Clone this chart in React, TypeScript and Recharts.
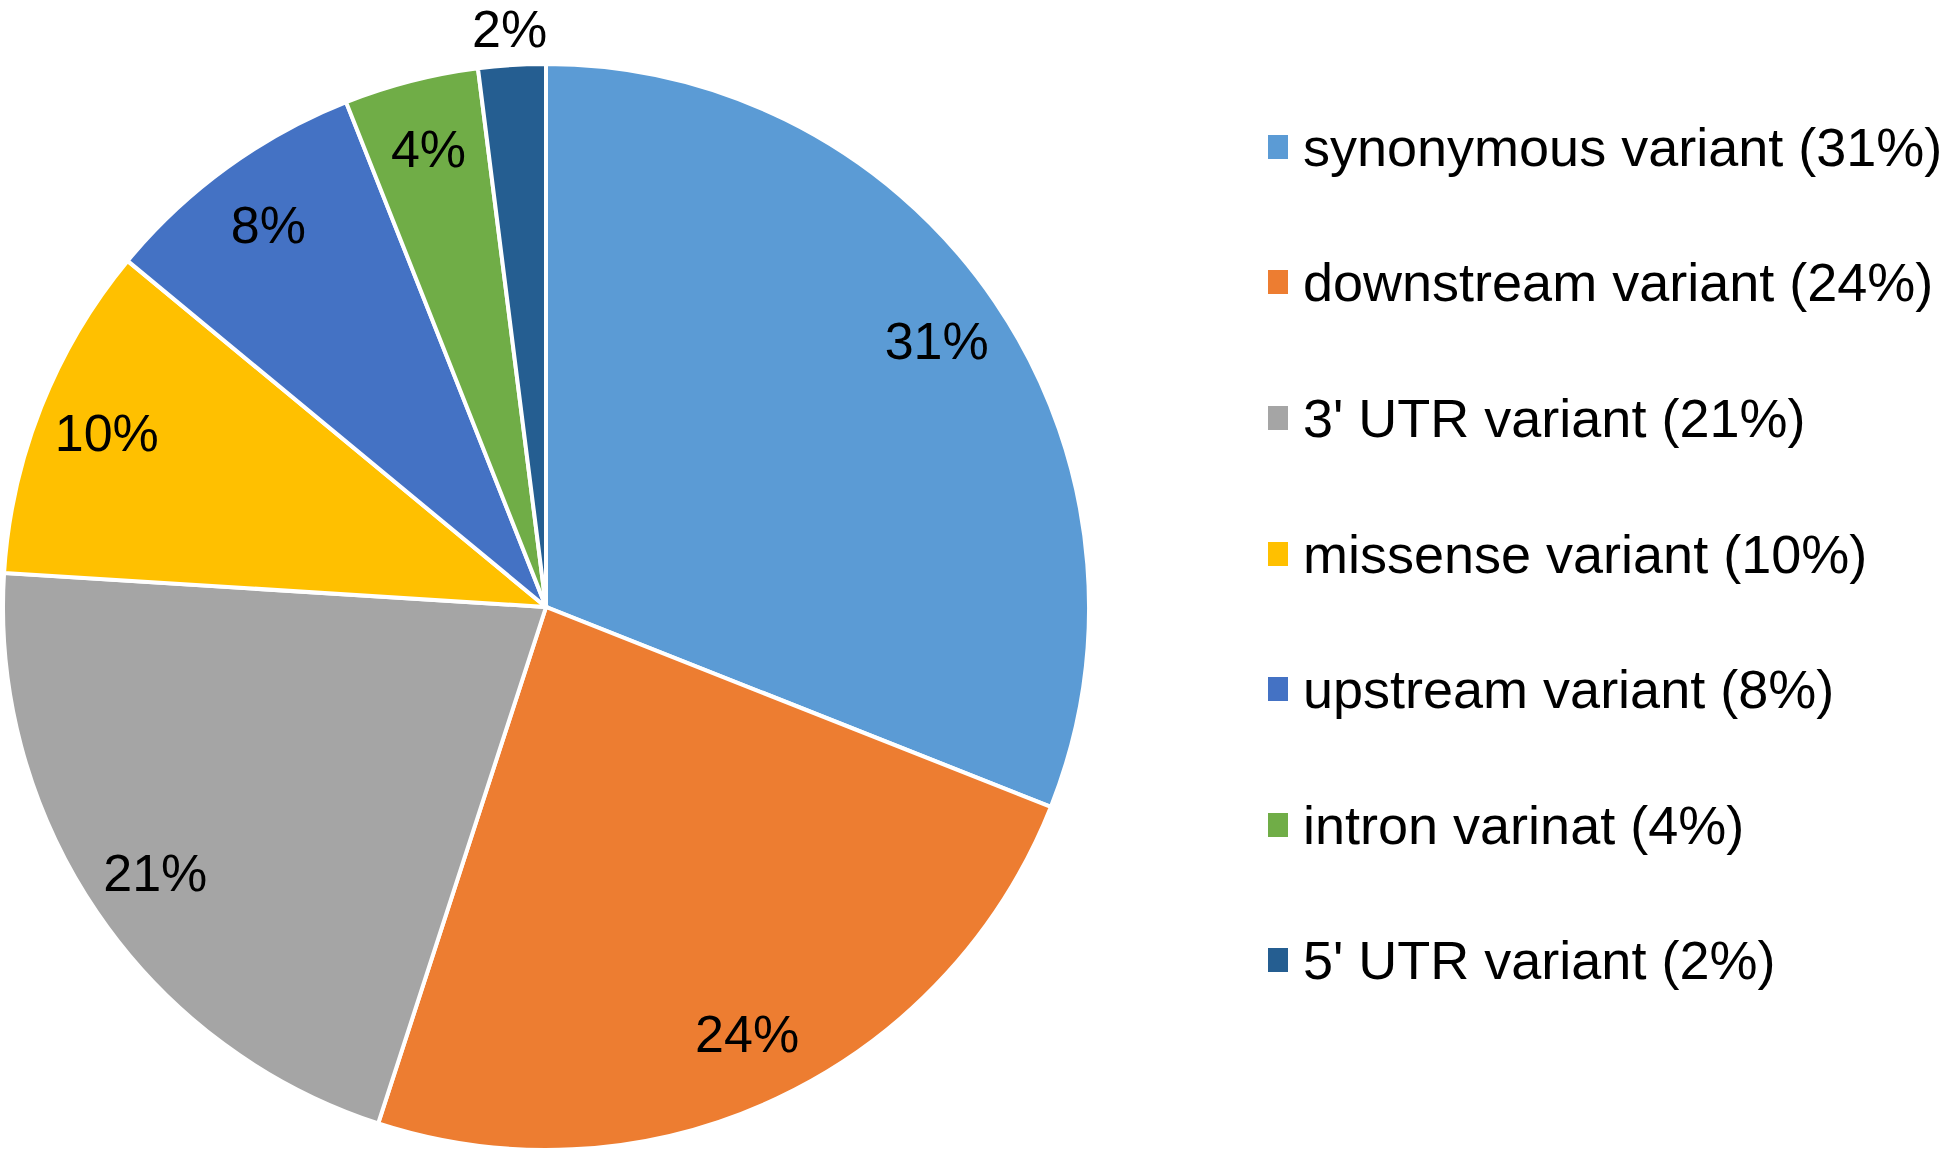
import React from 'react';
import { PieChart, Pie, Cell, Legend } from 'recharts';

const categories = [
  'synonymous variant',
  'downstream variant',
  "3' UTR variant",
  'missense variant',
  'upstream variant',
  'intron varinat',
  "5' UTR variant",
];
const shares = [31, 24, 21, 10, 8, 4, 2];
const colors = ['#5B9BD5', '#ED7D31', '#A5A5A5', '#FFC000', '#4472C4', '#70AD47', '#255E91'];

const data = categories.map((name, i) => ({ name, value: shares[i], color: colors[i] }));

const FONT = '"Liberation Sans", Arial, sans-serif';
const RAD = Math.PI / 180;

const renderLabel = (props: any) => {
  const { cx, cy, midAngle, outerRadius, value } = props;
  const small = value < 3;
  const r = small ? outerRadius + 36 : outerRadius * 0.87;
  const x = cx + r * Math.cos(-midAngle * RAD);
  const y = cy + r * Math.sin(-midAngle * RAD);
  return (
    <text
      x={x}
      y={y}
      fill="#000"
      textAnchor="middle"
      dominantBaseline="central"
      fontFamily={FONT}
      fontSize={52}
    >
      {`${value}%`}
    </text>
  );
};

const renderLegend = () => (
  <div style={{ fontFamily: FONT, fontSize: 54, color: '#000' }}>
    {data.map((d, i) => (
      <div
        key={i}
        style={{ height: 135.6, display: 'flex', alignItems: 'center', whiteSpace: 'nowrap' }}
      >
        <div style={{ width: 20, height: 24, background: d.color, marginRight: 15, flexShrink: 0 }} />
        <span>{`${d.name} (${d.value}%)`}</span>
      </div>
    ))}
  </div>
);

export default function App() {
  return (
    <div style={{ position: 'absolute', left: 0, top: 0, width: 1946, height: 1154, background: '#fff' }}>
      <PieChart width={1946} height={1154} margin={{ top: 0, right: 0, bottom: 0, left: 0 }}>
        <Pie
          data={data}
          dataKey="value"
          nameKey="name"
          cx={546}
          cy={607}
          outerRadius={543}
          startAngle={90}
          endAngle={-270}
          stroke="#fff"
          strokeWidth={4}
          label={renderLabel}
          labelLine={false}
          isAnimationActive={false}
        >
          {data.map((d, i) => (
            <Cell key={i} fill={d.color} />
          ))}
        </Pie>
        <Legend
          layout="vertical"
          align="right"
          verticalAlign="top"
          content={renderLegend}
          wrapperStyle={{ left: 1268, top: 79, width: 678, right: 'auto' }}
        />
      </PieChart>
    </div>
  );
}
